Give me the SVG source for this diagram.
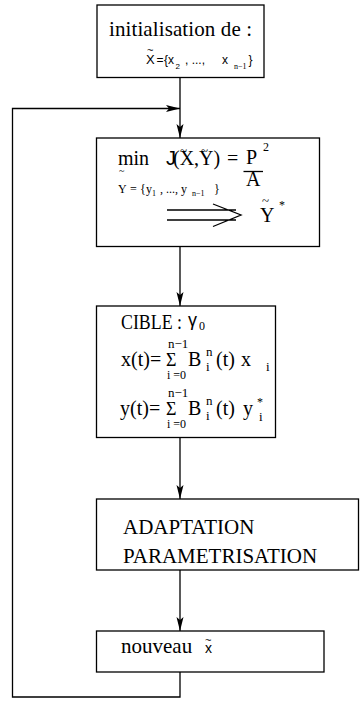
<svg xmlns="http://www.w3.org/2000/svg" width="363" height="703" viewBox="0 0 363 703">
<style>
.box{fill:#fff;stroke:#000;stroke-width:1.3}
.ln{fill:none;stroke:#000;stroke-width:1.3}
.s{font-family:"Liberation Serif","Times New Roman",serif;fill:#000}
.h{font-family:"Liberation Sans",Arial,sans-serif;fill:#000}
</style>
<defs>
<marker id="ah" markerUnits="userSpaceOnUse" markerWidth="16" markerHeight="10" refX="14" refY="4" orient="auto" viewBox="0 0 16 8">
<path d="M0,0.5 L14,4 L0,7.5 L3,4 z" fill="#000"/>
</marker>
</defs>
<rect width="363" height="703" fill="#fff"/>
<g id="connectors">
<line class="ln" x1="180" y1="77.5" x2="180" y2="138" marker-end="url(#ah)"/>
<polyline class="ln" points="180,672 180,697 12.5,697 12.5,108.5 180,108.5" marker-end="url(#ah)"/>
<line class="ln" x1="180" y1="246.5" x2="180" y2="306" marker-end="url(#ah)"/>
<line class="ln" x1="180" y1="437.5" x2="180" y2="499" marker-end="url(#ah)"/>
<line class="ln" x1="180" y1="570" x2="180" y2="631" marker-end="url(#ah)"/>
</g>
<g id="init">
<rect class="box" x="97" y="5" width="167" height="72.5"/>
<text class="s" x="109" y="36" font-size="21" textLength="143">initialisation de :</text>
<text class="h" x="147" y="54" font-size="11">~</text>
<text class="h" x="146" y="64" font-size="13">X</text>
<text class="h" x="156.5" y="64" font-size="12">=</text>
<text class="h" x="164" y="64" font-size="12">{</text>
<text class="h" x="168" y="64" font-size="12">x</text>
<text class="h" x="175.5" y="68.5" font-size="8">2</text>
<text class="h" x="185" y="64" font-size="12">, ..., </text>
<text class="h" x="222" y="64" font-size="12">x</text>
<text class="s" x="234" y="69" font-size="8">n−1</text>
<text class="h" x="248.5" y="64" font-size="12">}</text>
</g>
<g id="min">
<rect class="box" x="96.5" y="138" width="223" height="108.5"/>
<text class="s" x="118" y="165" font-size="20">min</text>
<text class="h" x="166" y="165" font-size="20">J</text>
<text class="s" x="173" y="165" font-size="20">(X,Y)</text>
<text class="s" x="180" y="155" font-size="13">~</text>
<text class="s" x="201" y="155" font-size="13">~</text>
<text class="s" x="227" y="165" font-size="20">=</text>
<text class="s" x="246" y="164" font-size="20">P</text>
<text class="s" x="263" y="151" font-size="12">2</text>
<line class="ln" x1="243.5" y1="171.5" x2="263" y2="171.5" stroke-width="1.1"/>
<text class="s" x="246" y="186" font-size="20">A</text>
<text class="s" x="119" y="174" font-size="10">~</text>
<text class="s" x="118" y="193" font-size="12">Y</text>
<text class="s" x="130" y="193" font-size="12">=</text>
<text class="s" x="140" y="193" font-size="12">{</text>
<text class="s" x="146" y="193" font-size="12">y</text>
<text class="s" x="152" y="196" font-size="8">1</text>
<text class="s" x="160" y="193" font-size="12">, ..., y</text>
<text class="s" x="192" y="196" font-size="8">n−1</text>
<text class="s" x="214" y="193" font-size="12">}</text>
<path class="ln" d="M167,210 H236 M167,220 H236 M213,204 L241,215 L213,226.5" stroke-width="1.2"/>
<text class="s" x="262" y="205" font-size="13">~</text>
<text class="s" x="260" y="222" font-size="20">Y</text>
<text class="s" x="279" y="209" font-size="12">*</text>
</g>
<g id="cible">
<rect class="box" x="96.5" y="306" width="179" height="131.5"/>
<text class="s" x="121" y="329" font-size="20" textLength="61" lengthAdjust="spacingAndGlyphs">CIBLE :</text>
<text class="h" x="188" y="326" font-size="18">γ</text>
<text class="s" x="199" y="330" font-size="12">0</text>
<text class="s" x="121" y="366" font-size="20">x(t)=</text>
<text class="s" x="168" y="348" font-size="13">n−1</text>
<text class="s" x="166" y="366" font-size="18">Σ</text>
<text class="s" x="167" y="379" font-size="12">i =0</text>
<text class="s" x="188" y="366" font-size="20">B</text>
<text class="s" x="206" y="356" font-size="13">n</text>
<text class="s" x="206" y="371" font-size="13">i</text>
<text class="s" x="216" y="366" font-size="20">(t)</text>
<text class="s" x="241" y="366" font-size="20">x</text>
<text class="s" x="266" y="371" font-size="13">i</text>
<text class="s" x="120" y="415" font-size="20">y(t)=</text>
<text class="s" x="168" y="397" font-size="13">n−1</text>
<text class="s" x="166" y="415" font-size="18">Σ</text>
<text class="s" x="167" y="428" font-size="12">i =0</text>
<text class="s" x="188" y="415" font-size="20">B</text>
<text class="s" x="206" y="405" font-size="13">n</text>
<text class="s" x="206" y="420" font-size="13">i</text>
<text class="s" x="216" y="415" font-size="20">(t)</text>
<text class="s" x="243" y="415" font-size="20">y</text>
<text class="s" x="257" y="406" font-size="12">*</text>
<text class="s" x="259" y="421" font-size="13">i</text>
</g>
<g id="adaptation">
<rect class="box" x="96.5" y="499" width="262" height="71"/>
<text class="s" x="123" y="534" font-size="21">ADAPTATION</text>
<text class="s" x="123" y="563" font-size="21">PARAMETRISATION</text>
</g>
<g id="nouveau">
<rect class="box" x="96.5" y="631" width="227.5" height="41"/>
<text class="s" x="121" y="653" font-size="21">nouveau</text>
<text class="h" x="205" y="644" font-size="11">~</text>
<text class="h" x="205" y="653" font-size="14">x</text>
</g>
</svg>
